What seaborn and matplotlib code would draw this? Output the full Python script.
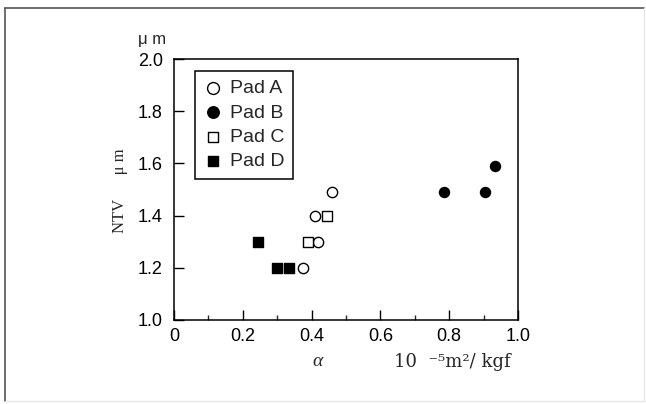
import matplotlib
matplotlib.use("Agg")
import matplotlib.pyplot as plt
import seaborn as sns
import pandas as pd
from matplotlib.lines import Line2D
from matplotlib.ticker import MultipleLocator

sns.set_style("white")
plt.rcParams['font.family'] = ['Liberation Sans', 'DejaVu Sans']

# ---- data ----
pad_a_alpha = [0.375, 0.42, 0.41, 0.46]
pad_a_ntv = [1.2, 1.3, 1.4, 1.49]
pad_b_alpha = [0.785, 0.905, 0.933]
pad_b_ntv = [1.49, 1.49, 1.59]
pad_c_alpha = [0.39, 0.445]
pad_c_ntv = [1.3, 1.4]
pad_d_alpha = [0.245, 0.30, 0.335]
pad_d_ntv = [1.3, 1.2, 1.2]
pad_names = ["Pad A", "Pad B", "Pad C", "Pad D"]
x_ticks = [0, 0.2, 0.4, 0.6, 0.8, 1.0]
x_tick_labels = ["0", "0.2", "0.4", "0.6", "0.8", "1.0"]
y_ticks = [1.0, 1.2, 1.4, 1.6, 1.8, 2.0]
y_tick_labels = ["1.0", "1.2", "1.4", "1.6", "1.8", "2.0"]

rows = []
for name, xs, ys in zip(pad_names,
                        [pad_a_alpha, pad_b_alpha, pad_c_alpha, pad_d_alpha],
                        [pad_a_ntv, pad_b_ntv, pad_c_ntv, pad_d_ntv]):
    for x, y in zip(xs, ys):
        rows.append({"pad": name, "alpha": x, "ntv": y})
df = pd.DataFrame(rows)

styles = {
    "Pad A": dict(marker="o", facecolor="white", s=55),
    "Pad B": dict(marker="o", facecolor="black", s=52),
    "Pad C": dict(marker="s", facecolor="white", s=45),
    "Pad D": dict(marker="s", facecolor="black", s=45),
}

fig = plt.figure(figsize=(6.46, 4.04), dpi=100)
ax = fig.add_axes([174 / 646, 1 - 320 / 404, 344 / 646, 261 / 404])

for name in pad_names:
    st = styles[name]
    sns.scatterplot(data=df[df["pad"] == name], x="alpha", y="ntv", ax=ax,
                    marker=st["marker"], s=st["s"], facecolor=st["facecolor"],
                    edgecolor="black", linewidth=1.0, label=name, zorder=3)

ax.set_xlim(0, 1.0)
ax.set_ylim(1.0, 2.0)
ax.set_xticks(x_ticks)
ax.set_xticklabels(x_tick_labels)
ax.set_yticks(y_ticks)
ax.set_yticklabels(y_tick_labels)
ax.xaxis.set_minor_locator(MultipleLocator(0.1))
ax.tick_params(axis="both", which="major", direction="in", length=7, width=1,
               labelsize=13, colors="black", bottom=True, left=True, top=False, right=False)
ax.tick_params(axis="x", which="minor", direction="in", length=3.5, width=1, bottom=True)
ax.tick_params(axis="x", which="major", pad=6)
ax.tick_params(axis="y", which="major", pad=8)
ax.set_xlabel("")
ax.set_ylabel("")
for sp in ax.spines.values():
    sp.set_visible(True)
    sp.set_color("black")
    sp.set_linewidth(1.1)

leg = ax.legend(loc="upper left", bbox_to_anchor=(0.061, 0.954), borderaxespad=0,
                frameon=True, fancybox=False, edgecolor="black", framealpha=1,
                fontsize=14, handletextpad=0.35, labelspacing=0.34,
                handlelength=1.0, borderpad=0.45, markerscale=1.15)
leg.get_frame().set_linewidth(1.1)

# axis unit and labels
ax.text(-0.064, 1.073, "μ m", transform=ax.transAxes, ha="center", va="center",
        fontsize=12)
ax.text(-0.157, 0.494, "NTV      μ m", transform=ax.transAxes, ha="center", va="center",
        rotation=90, fontsize=12, family=["Liberation Serif", "DejaVu Serif"])
fig.text(318 / 646, 1 - 362 / 404, "α", ha="center", va="center", fontsize=14,
         style="italic", family=["Liberation Serif", "DejaVu Serif"])
fig.text(394 / 646, 1 - 362 / 404, "10  ⁻⁵m²/ kgf", ha="left", va="center", fontsize=13,
         family=["DejaVu Serif"])

# outer frame
fig.add_artist(Line2D([5 / 646, 5 / 646], [1 - 8 / 404, 1 - 401 / 404],
                      transform=fig.transFigure, color="#555555", lw=1.2))
fig.add_artist(Line2D([5 / 646, 644 / 646], [1 - 8 / 404, 1 - 8 / 404],
                      transform=fig.transFigure, color="#555555", lw=1.2))
fig.add_artist(Line2D([644 / 646, 644 / 646], [1 - 8 / 404, 1 - 401 / 404],
                      transform=fig.transFigure, color="#e6e6e6", lw=1.0))
fig.add_artist(Line2D([5 / 646, 644 / 646], [1 - 401 / 404, 1 - 401 / 404],
                      transform=fig.transFigure, color="#e6e6e6", lw=1.0))

fig.savefig("out.png", dpi=100)
